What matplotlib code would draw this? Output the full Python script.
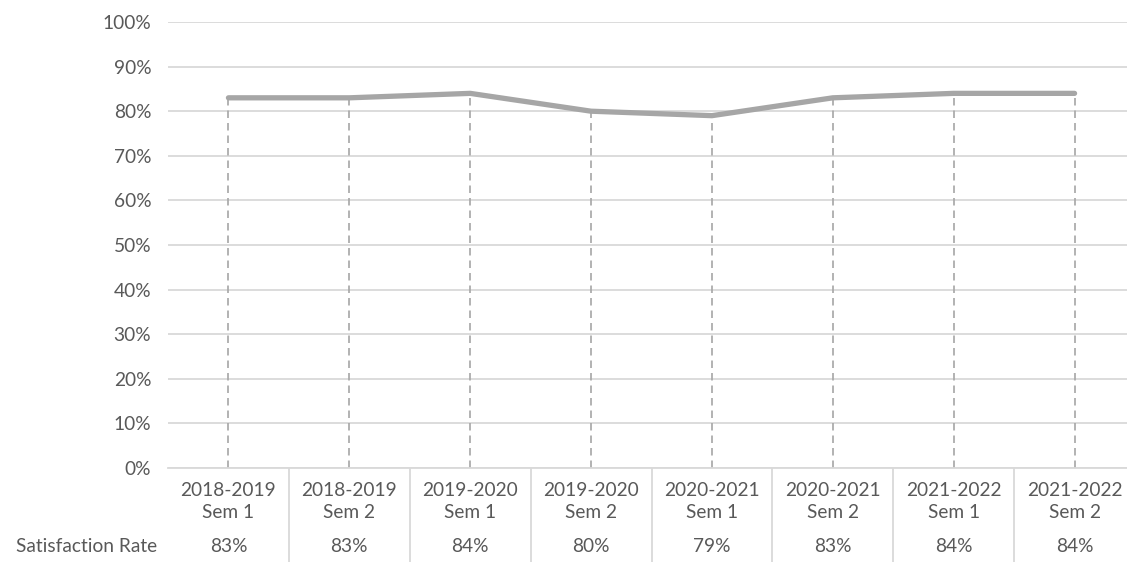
import numpy as np
import matplotlib
matplotlib.use('Agg')
import matplotlib.pyplot as plt
import matplotlib.transforms as mtransforms

# semester labels and satisfaction rates (%)
years = ['2018-2019', '2018-2019', '2019-2020', '2019-2020',
         '2020-2021', '2020-2021', '2021-2022', '2021-2022']
sems = ['Sem 1', 'Sem 2', 'Sem 1', 'Sem 2', 'Sem 1', 'Sem 2', 'Sem 1', 'Sem 2']
rates = [83, 83, 84, 80, 79, 83, 84, 84]
series_name = 'Satisfaction Rate'
yticks = list(range(0, 101, 10))

plt.rcParams['font.family'] = ['Lato', 'DejaVu Sans']
textColor = '#595959'
fs = 13.8
W, H = 1127, 562
fig = plt.figure(figsize=(W/100, H/100), dpi=100)
ax = fig.add_axes([168/W, (H-468)/H, (1135-168)/W, (468-22)/H])

x = np.arange(len(rates))
ax.plot(x, rates, color='#a6a6a6', lw=3.8, solid_capstyle='round', zorder=3)
# drop lines down to the axis
for xi, r in zip(x, rates):
    ax.plot([xi, xi], [0, r], color='#a6a6a6', lw=1.2, ls=(0, (4.5, 3)), zorder=2)

ax.set_xlim(-0.5, len(rates)-0.5)
ax.set_ylim(0, 100)
ax.set_yticks(yticks)
ax.set_yticklabels(['%d%%' % t for t in yticks])
ax.yaxis.grid(True, color='#d9d9d9', lw=1.3)
ax.set_axisbelow(True)
ax.tick_params(axis='y', length=0, pad=12, labelsize=fs, labelcolor=textColor)
ax.set_xticks([])
for s in ['top', 'right', 'left']:
    ax.spines[s].set_visible(False)
ax.spines['bottom'].set_color('#d9d9d9')
ax.spines['bottom'].set_linewidth(1.3)

# data table under the axis
tr = mtransforms.blended_transform_factory(ax.transData, fig.transFigure)
for xi in x:
    ax.text(xi, 1-490/H, years[xi], transform=tr, ha='center', va='center',
            fontsize=fs, color=textColor)
    ax.text(xi, 1-513/H, sems[xi], transform=tr, ha='center', va='center',
            fontsize=fs, color=textColor)
    ax.text(xi, 1-546/H, '%d%%' % rates[xi], transform=tr, ha='center', va='center',
            fontsize=fs, color=textColor)
for xi in x[:-1]:
    ax.plot([xi+0.5, xi+0.5], [1-468/H, 0], transform=tr, color='#d9d9d9',
            lw=1.3, clip_on=False)
fig.text(157/W, 1-546/H, series_name, ha='right', va='center',
         fontsize=fs, color=textColor)

fig.savefig('out.png', dpi=100)
